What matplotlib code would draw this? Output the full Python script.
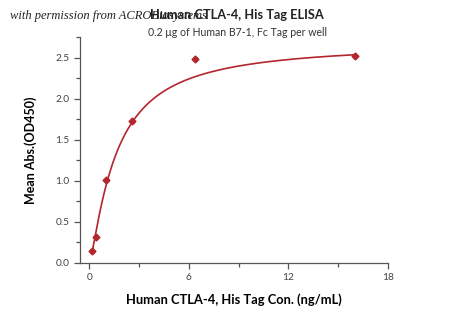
import numpy as np
import matplotlib.pyplot as plt
from matplotlib.ticker import MultipleLocator

# CTLA-4 concentration (ng/mL) and mean OD450
conc = [0.164, 0.41, 1.024, 2.56, 6.4, 16.0]
od450 = [0.146, 0.316, 1.013, 1.725, 2.484, 2.524]

# 4-parameter logistic curve
fit_bottom = -0.026
fit_top = 2.68
fit_ec50 = 1.62
fit_slope = 1.25

title = 'Human CTLA-4, His Tag ELISA'
subtitle = '0.2 \u03bcg of Human B7-1, Fc Tag per well'
xlabel = 'Human CTLA-4, His Tag Con. (ng/mL)'
ylabel = 'Mean Abs.(OD450)'
watermark = 'with permission from ACROBiosystems'

red = '#b3262e'
grey = '#555555'


def four_pl(t):
    return fit_top + (fit_bottom - fit_top) / (1.0 + (t / fit_ec50) ** fit_slope)


x = np.array(conc)
y = np.array(od450)
xs = np.linspace(x.min(), x.max(), 400)

plt.rcParams['font.family'] = ['Lato', 'DejaVu Sans']

fig = plt.figure(figsize=(4.5, 3.16), dpi=100)
ax = fig.add_axes([0.178, 0.168, 0.684, 0.715])

ax.plot(xs, four_pl(xs), color=red, linewidth=1.2)
ax.plot(x, y, 'D', color=red, markersize=3.5)

ax.set_xlim(-0.55, 18)
ax.set_ylim(0, 2.75)
ax.xaxis.set_major_locator(MultipleLocator(6))
ax.xaxis.set_minor_locator(MultipleLocator(3))
ax.yaxis.set_major_locator(MultipleLocator(0.5))
ax.yaxis.set_minor_locator(MultipleLocator(0.25))
ax.yaxis.set_major_formatter(lambda v, p: f'{v:.1f}')

for s in ['top', 'right']:
    ax.spines[s].set_visible(False)
for s in ['left', 'bottom']:
    ax.spines[s].set_color(grey)
    ax.spines[s].set_linewidth(0.9)

ax.tick_params(which='both', direction='out', color=grey, width=0.9,
               labelsize=7.3, labelcolor='#444444')
ax.tick_params(which='major', length=4)
ax.tick_params(which='minor', length=3)

ax.set_xlabel(xlabel, fontsize=9.3, fontweight='bold', labelpad=8)
ax.set_ylabel(ylabel, fontsize=9, fontweight='bold', labelpad=13)

fig.text(0.527, 0.952, title, ha='center', va='center',
         fontsize=9.2, fontweight='bold', color='#222222')
fig.text(0.527, 0.898, subtitle, ha='center', va='center',
         fontsize=7.6, color='#333333')
fig.text(0.022, 0.950, watermark, ha='left', va='center', fontsize=9,
         style='italic', family=['Liberation Serif', 'DejaVu Serif'],
         color='#222222')

fig.savefig('out.png', dpi=100)
